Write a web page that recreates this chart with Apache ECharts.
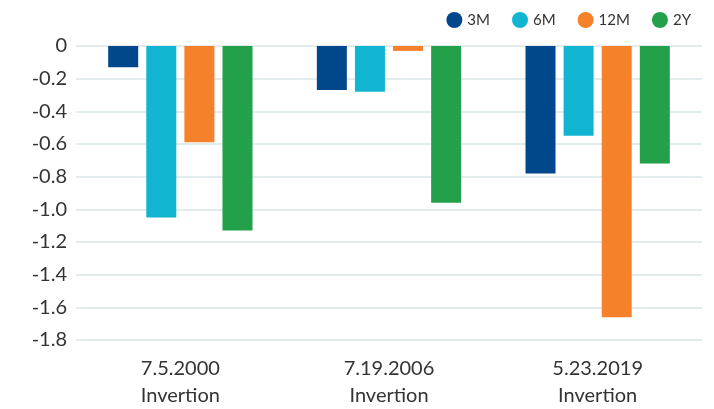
<!DOCTYPE html>
<html>
<head>
<meta charset="utf-8">
<script src="https://cdn.jsdelivr.net/npm/echarts@6/dist/echarts.min.js"></script>
<style>
  html, body { margin: 0; padding: 0; background: #fff; }
  #chart { width: 714px; height: 409px; }
</style>
</head>
<body>
<div id="chart"></div>
<script>
// Yield-curve inversion episodes and the spread for each maturity
const categories = ['7.5.2000\nInvertion', '7.19.2006\nInvertion', '5.23.2019\nInvertion'];
const seriesNames = ['3M', '6M', '12M', '2Y'];
const values3M = [-0.13, -0.27, -0.78];
const values6M = [-1.05, -0.28, -0.55];
const values12M = [-0.59, -0.03, -1.66];
const values2Y = [-1.13, -0.96, -0.72];
const colors = ['#00478b', '#12b5d1', '#f5822a', '#22a04a'];

const allValues = [values3M, values6M, values12M, values2Y];
const font = 'Lato, "Open Sans", "DejaVu Sans", sans-serif';

const chart = echarts.init(document.getElementById('chart'), null, { renderer: 'canvas' });

chart.setOption({
  animation: false,
  textStyle: { fontFamily: font },
  color: colors,
  legend: {
    right: 18,
    top: 7,
    icon: 'circle',
    itemWidth: 16,
    itemHeight: 16,
    itemGap: 22,
    textStyle: { fontFamily: font, fontSize: 15, color: '#333' },
    data: seriesNames
  },
  grid: { left: 76, right: 12, top: 46, bottom: 67, containLabel: false },
  xAxis: {
    type: 'category',
    data: categories,
    axisLine: { show: false, onZero: false },
    axisTick: { show: false },
    axisLabel: {
      fontFamily: font,
      fontSize: 20,
      lineHeight: 27,
      color: '#333',
      margin: 15
    }
  },
  yAxis: {
    type: 'value',
    min: -1.8,
    max: 0,
    interval: 0.2,
    axisLine: { show: false },
    axisTick: { show: false },
    splitLine: { lineStyle: { color: '#e3ecec', width: 2 } },
    axisLabel: {
      fontFamily: font,
      fontSize: 20,
      color: '#333',
      margin: 9,
      formatter: v => (Math.abs(v) < 1e-9 ? '0' : v.toFixed(1))
    }
  },
  series: seriesNames.map((name, i) => ({
    name: name,
    type: 'bar',
    data: allValues[i],
    barWidth: 30,
    barGap: '27%',
    itemStyle: { color: colors[i] }
  }))
});
</script>
</body>
</html>
